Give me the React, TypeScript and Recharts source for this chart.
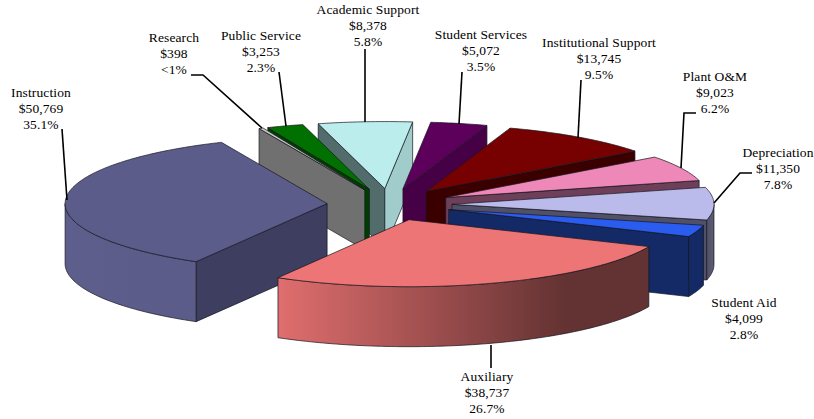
import React from 'react';
import { PieChart, Pie } from 'recharts';

const categories = ['Instruction', 'Research', 'Public Service', 'Academic Support', 'Student Services', 'Institutional Support', 'Plant O&M', 'Depreciation', 'Student Aid', 'Auxiliary'];
const amounts = [50769, 398, 3253, 8378, 5072, 13745, 9023, 11350, 4099, 38737];
const percentLabels = ['35.1%', '<1%', '2.3%', '5.8%', '3.5%', '9.5%', '6.2%', '7.8%', '2.8%', '26.7%'];

const data = categories.map((name, i) => ({ name, value: amounts[i] }));

// painter's order, back slices first
const paintOrder = ['Academic Support', 'Student Services', 'Institutional Support', 'Plant O&M', 'Depreciation', 'Student Aid', 'Public Service', 'Research', 'Instruction', 'Auxiliary'];

const TILT = 67 / 262;
const EXPLODE = 0.2385;
const DEPTH = 60;

// top, wall on the start cut, wall on the end cut, rim gradient left -> right
const sliceStyles: Record<string, { top: string; hi: string; lo: string; rim: string[] }> = {
  Instruction: { top: '#5C5C8B', hi: '#3E3E60', lo: '#3E3E60', rim: ['#5E5E8C', '#5C5C8A'] },
  Research: { top: '#C8C8C8', hi: '#707070', lo: '#707070', rim: ['#707070', '#707070'] },
  'Public Service': { top: '#007000', hi: '#003E00', lo: '#003E00', rim: ['#003E00', '#003E00'] },
  'Academic Support': { top: '#BBEDED', hi: '#526B6B', lo: '#A0CCCC', rim: ['#A0CCCC', '#A0CCCC'] },
  'Student Services': { top: '#5C005C', hi: '#460046', lo: '#460046', rim: ['#460046', '#460046'] },
  'Institutional Support': { top: '#770000', hi: '#3A0000', lo: '#3A0000', rim: ['#3A0000', '#3A0000'] },
  'Plant O&M': { top: '#EE88B8', hi: '#6E3F58', lo: '#6E3F58', rim: ['#6E3F58', '#6E3F58'] },
  Depreciation: { top: '#BBBBEB', hi: '#505068', lo: '#505068', rim: ['#505068', '#5A5A72'] },
  'Student Aid': { top: '#2B5CF0', hi: '#132A66', lo: '#132A66', rim: ['#132A66', '#132A66'] },
  Auxiliary: { top: '#EE7575', hi: '#8A4A4A', lo: '#8A4A4A', rim: ['#E06E6E', '#633232'] },
};

// label anchor (centre x, first line y) and leader line, by category
const labelSpots: Record<string, { x: number; y: number; line?: string }> = {
  Instruction: { x: 41, y: 97, line: 'M62 129L67 200' },
  Research: { x: 174, y: 42, line: 'M191 75L203 75L262 128' },
  'Public Service': { x: 261, y: 40, line: 'M279 72L286 126' },
  'Academic Support': { x: 368, y: 14, line: 'M365 49L365 122' },
  'Student Services': { x: 481, y: 39, line: 'M462 72L459 124' },
  'Institutional Support': { x: 599, y: 47, line: 'M581 80L578 138' },
  'Plant O&M': { x: 715, y: 81, line: 'M696 113L684 113L681 168' },
  Depreciation: { x: 778, y: 157, line: 'M752 173L740 173L714 203' },
  'Student Aid': { x: 744, y: 307 },
  Auxiliary: { x: 487, y: 381, line: 'M491 345L491 368' },
};

const rad = (a: number) => (a * Math.PI) / 180;
const gradientId = (name: string) => 'rim-' + name.replace(/[^A-Za-z]/g, '');

const SliceShape = (props: any, onlyName: string) => {
  const name = props.name ?? props.payload?.name;
  if (name !== onlyName) return <g />;
  const { cx, cy, outerRadius: r, startAngle, endAngle } = props;
  const hi = Math.max(startAngle, endAngle);
  const lo = Math.min(startAngle, endAngle);
  const mid = (hi + lo) / 2;
  const ox = cx + EXPLODE * r * Math.cos(rad(mid));
  const oy = cy - EXPLODE * r * TILT * Math.sin(rad(mid));
  const at = (a: number): [number, number] => [ox + r * Math.cos(rad(a)), oy - r * TILT * Math.sin(rad(a))];
  const st = sliceStyles[name];

  const angles = [hi];
  for (let a = Math.ceil(hi) - 1; a > lo; a--) angles.push(a);
  angles.push(lo);

  const pts = angles.map(at);
  const topPath = `M${ox} ${oy}` + pts.map(p => `L${p[0]} ${p[1]}`).join('') + 'Z';
  const wall = (a: number) => {
    const p = at(a);
    return `M${ox} ${oy}L${p[0]} ${p[1]}L${p[0]} ${p[1] + DEPTH}L${ox} ${oy + DEPTH}Z`;
  };
  const front = angles.filter(a => Math.sin(rad(a)) <= 1e-9).map(at);
  const rimPath = front.length > 1
    ? 'M' + front.map(p => `${p[0]} ${p[1]}`).join('L') + 'L' + [...front].reverse().map(p => `${p[0]} ${p[1] + DEPTH}`).join('L') + 'Z'
    : '';
  const edge = { stroke: '#15151f', strokeWidth: 0.7, strokeLinejoin: 'round' as const };

  return (
    <g>
      <defs>
        <linearGradient id={gradientId(name)} x1="0" x2="1" y1="0" y2="0">
          <stop offset="0%" stopColor={st.rim[0]} />
          <stop offset="78%" stopColor={st.rim[1]} />
          <stop offset="100%" stopColor={st.rim[1]} />
        </linearGradient>
      </defs>
      {Math.cos(rad(hi)) < 0 && <path d={wall(hi)} fill={st.hi} {...edge} />}
      {Math.cos(rad(lo)) > 0 && <path d={wall(lo)} fill={st.lo} {...edge} />}
      {rimPath && <path d={rimPath} fill={`url(#${gradientId(name)})`} {...edge} />}
      <path d={topPath} fill={st.top} {...edge} />
    </g>
  );
};

const renderLabel = (props: any) => {
  const name = props.name ?? props.payload?.name;
  const i = categories.indexOf(name);
  const spot = labelSpots[name];
  const lines = [name, '$' + amounts[i].toLocaleString('en-US'), percentLabels[i]];
  return (
    <g key={name}>
      {spot.line && <path d={spot.line} fill="none" stroke="#000" strokeWidth={1.6} />}
      {lines.map((t, k) => (
        <text key={k} x={spot.x} y={spot.y + k * 16} textAnchor="middle" fontFamily="'Liberation Serif'" fontSize={13.5} letterSpacing={0.12} fill="#000">
          {t}
        </text>
      ))}
    </g>
  );
};

const pieProps = {
  data,
  dataKey: 'value',
  nameKey: 'name',
  cx: 389.5,
  cy: 204.5,
  innerRadius: 0,
  outerRadius: 262,
  startAngle: 240,
  endAngle: -120,
  paddingAngle: 0,
  stroke: 'none',
  isAnimationActive: false,
};

export default function App() {
  return (
    <div style={{ position: 'absolute', left: 0, top: 0, background: '#fff' }}>
      <PieChart width={814} height={419} margin={{ top: 0, right: 0, bottom: 0, left: 0 }}>
        {paintOrder.map(name => (
          <Pie key={name} {...pieProps} shape={(p: any) => SliceShape(p, name)} />
        ))}
        <Pie {...pieProps} shape={() => <g />} label={renderLabel} labelLine={false} />
      </PieChart>
    </div>
  );
}
